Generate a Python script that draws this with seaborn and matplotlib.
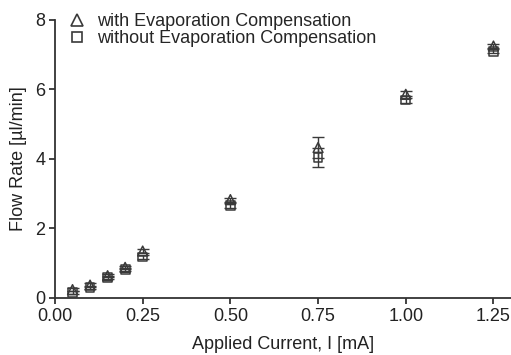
import matplotlib
matplotlib.use("Agg")
import matplotlib.pyplot as plt
import seaborn as sns
import pandas as pd
from matplotlib.lines import Line2D

current = [0.05, 0.10, 0.15, 0.20, 0.25, 0.50, 0.75, 1.00, 1.25]
flow_with = [0.24, 0.37, 0.64, 0.88, 1.35, 2.83, 4.33, 5.86, 7.25]
err_with = [0.05, 0.05, 0.05, 0.05, 0.06, 0.06, 0.30, 0.10, 0.06]
flow_without = [0.15, 0.30, 0.58, 0.82, 1.18, 2.66, 4.05, 5.70, 7.10]
err_without = [0.04, 0.04, 0.04, 0.04, 0.05, 0.06, 0.28, 0.10, 0.06]
x_ticks = [0.00, 0.25, 0.50, 0.75, 1.00, 1.25]
y_ticks = [0, 2, 4, 6, 8]
label_with = "with Evaporation Compensation"
label_without = "without Evaporation Compensation"

sns.set_style("ticks")
plt.rcParams['font.family'] = ['Liberation Sans', 'DejaVu Sans']

df_w = pd.DataFrame({"I": current, "Q": flow_with})
df_wo = pd.DataFrame({"I": current, "Q": flow_without})

fig = plt.figure(figsize=(5.11, 3.55), dpi=100)
ax = fig.add_axes([0.1076, 0.1606, 0.8924, 0.7831])

mc = "#3a3a3a"
ax.errorbar(current, flow_with, yerr=err_with, fmt="none", ecolor=mc,
            elinewidth=1.0, capsize=4, capthick=1.0, zorder=2)
ax.errorbar(current, flow_without, yerr=err_without, fmt="none", ecolor=mc,
            elinewidth=1.0, capsize=4, capthick=1.0, zorder=2)

sns.scatterplot(data=df_w, x="I", y="Q", marker="^", s=50, ax=ax,
                linewidth=1.1, zorder=3)
sns.scatterplot(data=df_wo, x="I", y="Q", marker="s", s=40, ax=ax,
                linewidth=1.1, zorder=3)
for coll in ax.collections:
    try:
        coll.set_facecolor("none")
        coll.set_edgecolor(mc)
    except Exception:
        pass

ax.set_xlim(0, 1.30)
ax.set_ylim(0, 8)
ax.set_xticks(x_ticks)
ax.set_xticklabels([f"{t:.2f}" for t in x_ticks])
ax.set_yticks(y_ticks)
ax.tick_params(axis="both", labelsize=13, colors="#222222", length=4, width=1.2,
               direction="out", pad=3)
for s in ["top", "right"]:
    ax.spines[s].set_visible(False)
for s in ["left", "bottom"]:
    ax.spines[s].set_color("#333333")
    ax.spines[s].set_linewidth(1.3)

ax.set_xlabel("Applied Current, I [mA]", fontsize=13, color="#222222", labelpad=8)
ax.set_ylabel("Flow Rate [\u00b5l/min]", fontsize=13, color="#222222", labelpad=6)

handles = [
    Line2D([], [], marker="^", linestyle="none", markersize=8,
           markerfacecolor="none", markeredgecolor=mc, markeredgewidth=1.2),
    Line2D([], [], marker="s", linestyle="none", markersize=7,
           markerfacecolor="none", markeredgecolor=mc, markeredgewidth=1.2),
]
ax.legend(handles, [label_with, label_without], loc="upper left",
          bbox_to_anchor=(0.012, 1.05), frameon=False, fontsize=13,
          handletextpad=0.6, labelspacing=0.0, borderaxespad=0.0,
          handlelength=1.0)

fig.savefig("out.png", dpi=100)
